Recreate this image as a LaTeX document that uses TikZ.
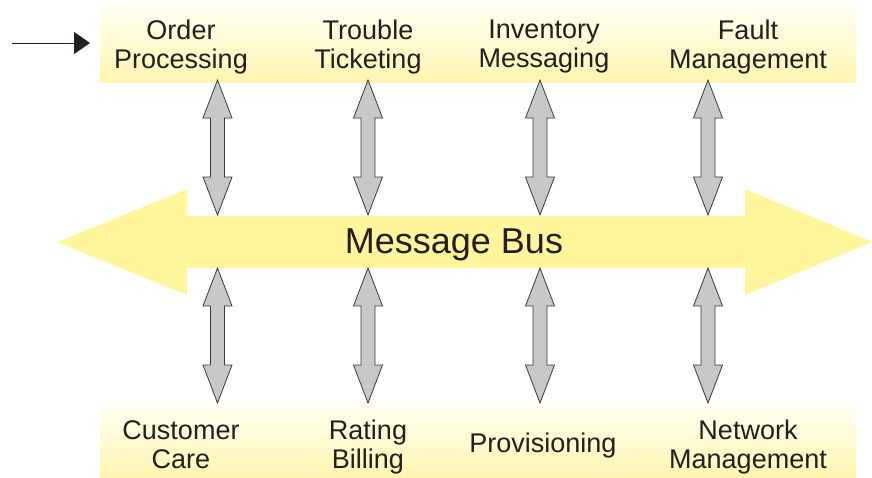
\documentclass[tikz,border=0pt]{standalone}
\usepackage{fontspec}
\setmainfont{Liberation Sans}
\usetikzlibrary{calc,arrows.meta}
\definecolor{busyellow}{HTML}{FFF59A}
\definecolor{bandyellow}{HTML}{FFF5B0}
\definecolor{bandwhite}{HTML}{FFFFF4}
\definecolor{arrowgray}{HTML}{C7C8CA}
\definecolor{edgegray}{HTML}{3A3A3A}
\definecolor{inkblack}{HTML}{231F20}
\tikzset{
  band/.style={rectangle, draw=none, minimum width=756pt, inner sep=0pt,
    top color=bandwhite, bottom color=bandyellow},
  label/.style={text=inkblack, align=center, inner sep=0pt,
    font=\fontsize{27}{29}\selectfont},
  buslabel/.style={text=inkblack, inner sep=0pt, font=\fontsize{36}{40}\selectfont},
  bus/.style={fill=busyellow, draw=none},
  dblarrow/.style={fill=arrowgray, draw=edgegray, line width=0.8pt, line join=miter,
    to path={(\tikztostart) -- ($(\tikztostart)+(14.5,38)$) -- ($(\tikztostart)+(7,38)$)
      -- ($(\tikztotarget)+(7,-38)$) -- ($(\tikztotarget)+(14.5,-38)$) -- (\tikztotarget)
      -- ($(\tikztotarget)+(-14.5,-38)$) -- ($(\tikztotarget)+(-7,-38)$)
      -- ($(\tikztostart)+(-7,38)$) -- ($(\tikztostart)+(-14.5,38)$) -- cycle}},
  inarrow/.style={draw=inkblack, line width=1pt, -{Triangle[length=16pt,width=22pt]}}
}
\begin{document}
\begin{tikzpicture}[x=1pt,y=-1pt]
\useasboundingbox (0,0) rectangle (872,477);
% bands
\node[band, minimum height=79pt] (topband) at (478,42.5) {};
\node[band, minimum height=74pt] (botband) at (478,440) {};
% message bus
\fill[bus] (57,242) -- (187,189) -- (187,216) -- (745,216) -- (745,189) -- (872,242)
  -- (745,295) -- (745,268) -- (187,268) -- (187,295) -- cycle;
\node[buslabel] (bus) at (454,244.5) {Message Bus};
% top labels
\node[label] (op) at (181,47) {Order\\Processing};
\node[label] (tt) at (368,47) {Trouble\\Ticketing};
\node[label] (im) at (544,47) {Inventory\\Messaging};
\node[label] (fm) at (748,47) {Fault\\Management};
% bottom labels
\node[label] (cc) at (181,444.5) {Customer\\Care};
\node[label] (rb) at (368,447) {Rating\\Billing};
\node[label] (pv) at (543,446) {Provisioning};
\node[label] (nm) at (748,447) {Network\\Management};
% arrow tips
\foreach \i/\x in {1/217.5,2/368,3/540,4/708}{
  \coordinate (ta\i) at (\x,80);
  \coordinate (tb\i) at (\x,215);
  \coordinate (ba\i) at (\x,268);
  \coordinate (bb\i) at (\x,403);
}
\foreach \i in {1,2,3,4}{
  \draw[dblarrow] (ta\i) to (tb\i);
  \draw[dblarrow] (ba\i) to (bb\i);
}
% incoming arrow
\coordinate (in) at (12,43);
\coordinate (inend) at (90,43);
\draw[inarrow] (in) -- (inend);
\end{tikzpicture}
\end{document}
